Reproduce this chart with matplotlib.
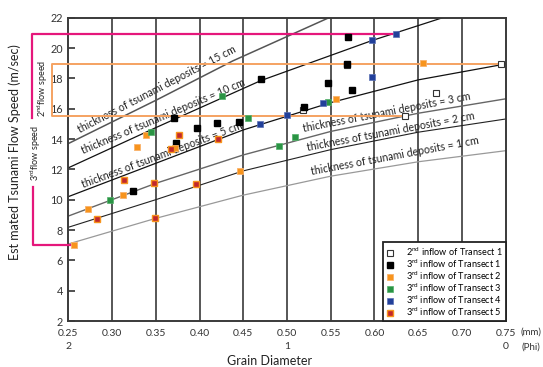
import matplotlib
matplotlib.use("Agg")
import matplotlib.pyplot as plt

plt.rcParams['font.family'] = ['Lato', 'DejaVu Sans']
plt.rcParams['mathtext.fontset'] = 'custom'
plt.rcParams['mathtext.rm'] = 'Lato'

# --- grain diameter / flow speed points ---
t1_2nd_x = [0.518, 0.569, 0.635, 0.670, 0.745]
t1_2nd_y = [15.9, 18.9, 15.55, 17.05, 18.92]
t1_3rd_x = [0.324, 0.3705, 0.373, 0.3975, 0.420, 0.4455, 0.470, 0.520, 0.5465, 0.569, 0.5695, 0.574]
t1_3rd_y = [10.59, 15.40, 13.77, 14.72, 15.07, 15.10, 17.95, 16.09, 17.67, 18.96, 20.75, 17.23]
t2_x = [0.256, 0.273, 0.312, 0.329, 0.3385, 0.372, 0.446, 0.556, 0.655]
t2_y = [7.0, 9.36, 10.29, 13.47, 14.28, 13.42, 11.87, 16.61, 18.99]
t3_x = [0.298, 0.344, 0.426, 0.455, 0.491, 0.509, 0.547]
t3_y = [9.98, 14.48, 16.81, 15.38, 13.54, 14.13, 16.44]
t4_x = [0.4695, 0.4997, 0.541, 0.5975, 0.5975, 0.625]
t4_y = [14.99, 15.56, 16.35, 20.52, 18.1, 20.92]
t5_x = [0.2825, 0.314, 0.348, 0.349, 0.367, 0.377, 0.396, 0.4215]
t5_y = [8.70, 11.27, 11.08, 8.77, 13.32, 14.28, 11.05, 14.02]

# thickness curves (anchor points)
th15_x = [0.25, 0.35, 0.438, 0.548]
th15_y = [13.7, 16.55, 19.15, 22.0]
th10_x = [0.25, 0.35, 0.47, 0.5975, 0.678]
th10_y = [12.1, 14.75, 17.85, 20.5, 22.0]
th5_x = [0.25, 0.35, 0.45, 0.55, 0.65, 0.75]
th5_y = [10.2, 12.4, 14.6, 16.4, 17.9, 18.95]
th3_x = [0.25, 0.35, 0.45, 0.55, 0.65, 0.75]
th3_y = [8.92, 11.08, 12.95, 14.5, 15.7, 16.65]
th2_x = [0.25, 0.35, 0.45, 0.55, 0.65, 0.75]
th2_y = [8.18, 10.0, 11.9, 13.3, 14.45, 15.32]
th1_x = [0.25, 0.35, 0.45, 0.55, 0.65, 0.75]
th1_y = [7.08, 8.77, 10.3, 11.55, 12.5, 13.23]

# flow speed ranges
speed2 = (15.55, 18.95)
speed3 = (7.0, 20.92)

x_ticks = [0.25, 0.30, 0.35, 0.40, 0.45, 0.50, 0.55, 0.60, 0.65, 0.70, 0.75]
phi_pos = [0.25, 0.50, 0.75]
phi_labels = ['2', '1', '0']

ORANGE = '#f7941d'
PINK = '#e5177b'
LORANGE = '#f5a261'

fig = plt.figure(figsize=(5.43, 3.67), dpi=100)
ax = fig.add_axes([0.1258, 0.1253, 0.8055, 0.8265])
ax.set_xlim(0.25, 0.75)
ax.set_ylim(2, 22)

for xv in x_ticks[1:-1]:
    ax.axvline(xv, color='#3a3a3a', lw=1.2, zorder=1)

# --- thickness curves ---
ax.plot(th15_x, th15_y, color='#555555', lw=1.1, zorder=2)
ax.plot(th10_x, th10_y, color='#111111', lw=0.9, zorder=2)
ax.plot(th5_x, th5_y, color='#111111', lw=0.9, zorder=2)
ax.plot(th3_x, th3_y, color='#666666', lw=1.0, zorder=2)
ax.plot(th2_x, th2_y, color='#222222', lw=0.8, zorder=2)
ax.plot(th1_x, th1_y, color='#999999', lw=0.9, zorder=2)

lab = 'thickness of tsunami deposits = '
fs = 7.6
ax.text(0.351, 17.3, lab + '15 cm', rotation=27.5, ha='center', va='center', fontsize=fs, color='#222222')
ax.text(0.359, 15.5, lab + '10 cm', rotation=23, ha='center', va='center', fontsize=fs, color='#222222')
ax.text(0.357, 12.95, lab + '5 cm', rotation=20.5, ha='center', va='center', fontsize=fs, color='#222222')
ax.text(0.614, 15.75, lab + '3 cm', rotation=11, ha='center', va='center', fontsize=fs, color='#222222')
ax.text(0.619, 14.5, lab + '2 cm', rotation=10.8, ha='center', va='center', fontsize=fs, color='#222222')
ax.text(0.623, 12.9, lab + '1 cm', rotation=10.6, ha='center', va='center', fontsize=fs, color='#222222')

# --- flow speed brackets ---
ax.plot([0.208, 0.208, t4_x[-1]], [15.4, speed3[1], speed3[1]], color=PINK, lw=1.6, clip_on=False, zorder=3)
ax.plot([0.210, 0.210, t2_x[0]], [10.85, speed3[0], speed3[0]], color=PINK, lw=1.6, clip_on=False, zorder=3)
ax.plot([0.745, 0.231, 0.231, 0.635], [speed2[1], speed2[1], speed2[0], speed2[0]],
        color=LORANGE, lw=1.4, clip_on=False, zorder=3)
fig.text(42.5 / 543, 1 - 88 / 367, r'2$^{\rm nd}$flow speed', rotation=90, ha='center', va='center',
         fontsize=6.5, color='#222222')
fig.text(35.5 / 543, 1 - 153 / 367, r'3$^{\rm rd}$flow speed', rotation=90, ha='center', va='center',
         fontsize=6.5, color='#222222')

# --- data points ---
ms = 4.3
ax.plot(t1_2nd_x, t1_2nd_y, 's', ms=ms, mfc='white', mec='#333333', mew=0.8, ls='none', zorder=4,
        label=r'2$^{\rm nd}$ inflow of Transect 1')
ax.plot(t1_3rd_x, t1_3rd_y, 's', ms=ms, color='black', ls='none', zorder=5,
        label=r'3$^{\rm rd}$ inflow of Transect 1')
ax.plot(t2_x, t2_y, 's', ms=ms + 0.6, mfc=ORANGE, mec='#f9b26b', mew=0.6, ls='none', zorder=5,
        label=r'3$^{\rm rd}$ inflow of Transect 2')
ax.plot(t3_x, t3_y, 's', ms=ms, mfc='#2a9444', mec='#53b06a', mew=0.5, ls='none', zorder=5,
        label=r'3$^{\rm rd}$ inflow of Transect 3')
ax.plot(t4_x, t4_y, 's', ms=ms, mfc='#22409a', mec='#5a70b5', mew=0.5, ls='none', zorder=5,
        label=r'3$^{\rm rd}$ inflow of Transect 4')
ax.plot(t5_x, t5_y, 's', ms=ms + 0.6, mfc='#c1272d', mec=ORANGE, mew=1.0, ls='none', zorder=5,
        label=r'3$^{\rm rd}$ inflow of Transect 5')

leg = ax.legend(loc='lower right', fontsize=6.6, frameon=True, fancybox=False, borderaxespad=0,
                handlelength=0.8, handletextpad=1.3, labelspacing=-0.05, borderpad=0.35, markerscale=0.85)
leg.get_frame().set_edgecolor('#222222')
leg.get_frame().set_linewidth(1.3)
leg.get_frame().set_alpha(1)

# --- axes styling ---
ax.set_xticks(x_ticks)
ax.set_xticklabels(['%.2f' % v for v in x_ticks], fontsize=7.5, color='#333333')
ax.set_yticks(range(2, 23, 2))
ax.set_yticklabels([str(v) for v in range(2, 23, 2)], fontsize=7.8, color='#333333')
ax.tick_params(axis='x', length=0, pad=6)
ax.tick_params(axis='y', direction='in', length=5, width=1.2, color='#333333', pad=4)
for s in ax.spines.values():
    s.set_color('#3a3a3a')
    s.set_linewidth(1.4)

for p, l in zip(phi_pos, phi_labels):
    ax.text(p, -0.085, l, transform=ax.get_xaxis_transform(), ha='center', va='center',
            fontsize=7.5, color='#333333')
fig.text(531 / 543, 1 - 332 / 367, '(mm)', ha='center', va='center', fontsize=7, color='#333333')
fig.text(531 / 543, 1 - 347 / 367, '(Phi)', ha='center', va='center', fontsize=7, color='#333333')
fig.text(270 / 543, 1 - 361 / 367, 'Grain Diameter', ha='center', va='center', fontsize=9, color='#222222')
fig.text(15 / 543, 1 - 152 / 367, 'Est mated Tsunami Flow Speed (m/sec)', rotation=90,
         ha='center', va='center', fontsize=9, color='#222222')

fig.savefig('out.png', dpi=100)
